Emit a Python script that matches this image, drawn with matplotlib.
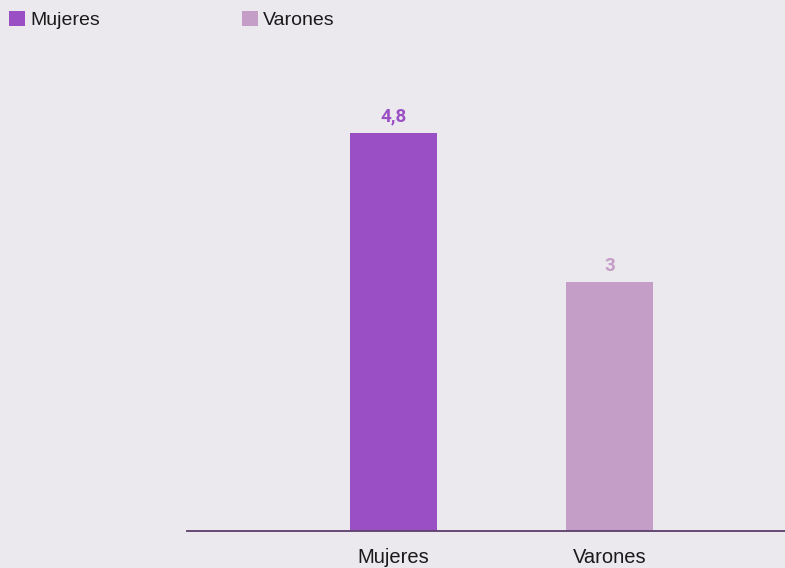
import matplotlib
matplotlib.use("Agg")
import matplotlib.pyplot as plt
from matplotlib.patches import Patch

categories = ["Mujeres", "Varones"]
values = [4.8, 3]
value_labels = ["4,8", "3"]
colors = ["#9B4FC4", "#C49EC7"]
label_colors = ["#9B4FC4", "#C49EC7"]
bg = "#EBE8EE"

fig = plt.figure(figsize=(7.85, 5.68), dpi=100, facecolor=bg)
ax = fig.add_axes([187/785, 37/568, 598/785, 471/568])
ax.set_facecolor(bg)

x = list(range(len(categories)))
bars = ax.bar(x, values, width=0.4, color=colors, zorder=2)
ax.set_xlim(-0.956, 1.8125)
ax.set_ylim(0, 471/83)

for xi, v, lab, c in zip(x, values, value_labels, label_colors):
    ax.annotate(lab, (xi, v), xytext=(0, 5), textcoords="offset points",
                ha="center", va="bottom", color=c, fontsize=13.5,
                fontweight="bold", family="Roboto")

ax.set_xticks(x)
ax.set_xticklabels(categories, fontsize=14.5, family="Liberation Sans", color="#1a1a1a")
ax.tick_params(axis="x", length=0, pad=12)
ax.set_yticks([])
for s in ["left", "right", "top"]:
    ax.spines[s].set_visible(False)
ax.spines["bottom"].set_color("#5B3F6B")
ax.spines["bottom"].set_linewidth(1.3)

handles = [Patch(facecolor=c, edgecolor="none") for c in colors]
leg = fig.legend(handles, categories, loc="upper left",
                 bbox_to_anchor=(9/785, 1 - 11/568), bbox_transform=fig.transFigure,
                 ncol=2, frameon=False, borderpad=0, borderaxespad=0,
                 handlelength=0.82, handleheight=0.82, handletextpad=0.27,
                 columnspacing=7.3, prop={"family": "Liberation Sans", "size": 14})
for t in leg.get_texts():
    t.set_color("#1a1a1a")

fig.savefig("out.png", dpi=100, facecolor=bg)
